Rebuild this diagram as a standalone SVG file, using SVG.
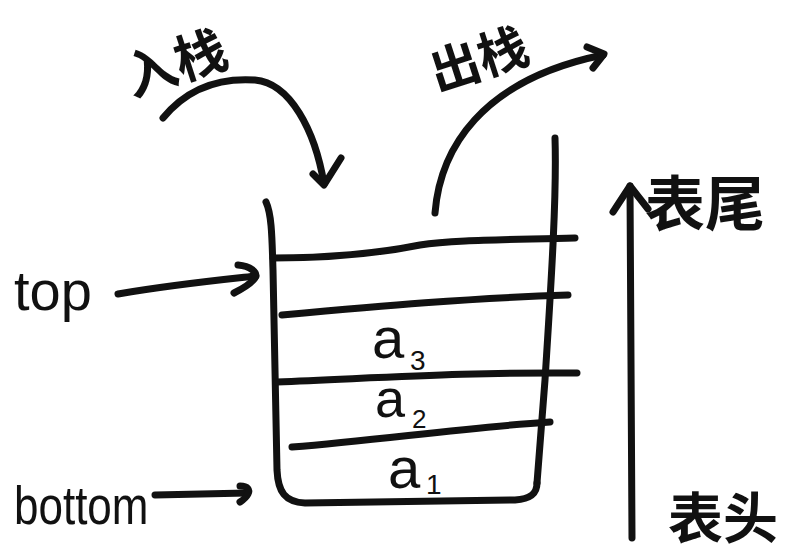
<svg xmlns="http://www.w3.org/2000/svg" width="796" height="559" viewBox="0 0 796 559">
<style>
.s{fill:none;stroke:#111;stroke-width:7;stroke-linecap:round;stroke-linejoin:round}
.cjk{font-family:"Noto Sans CJK SC","Noto Sans",sans-serif;font-weight:700;fill:#111}
.lat{font-family:"Liberation Sans","DejaVu Sans",sans-serif;fill:#111}
</style>
<rect width="796" height="559" fill="#fff"/>
<g id="stack">
<path class="s" d="M266,202 C272,215 272,240 273,270 L277,470 C278,492 285,502 305,503 L515,500 C530,499 537,494 537,483"/>
<path class="s" d="M555,138 C557,200 550,300 545,380 L537,483"/>
<path class="s" d="M273,258 C330,258 380,253 420,245 C450,240 500,240 575,238"/>
<path class="s" d="M282,315 C380,306 470,298 568,295"/>
<path class="s" d="M277,382 C380,378 470,372 577,373"/>
<path class="s" d="M292,447 C380,440 460,428 550,422"/>
</g>
<g id="a3"><text class="lat" x="372" y="358" font-size="58">a</text><text class="lat" x="410" y="370" font-size="28">3</text></g>
<g id="a2"><text class="lat" x="375" y="417" font-size="54">a</text><text class="lat" x="412" y="428" font-size="26">2</text></g>
<g id="a1"><text class="lat" x="388" y="488" font-size="58">a</text><text class="lat" x="426" y="494" font-size="28">1</text></g>
<g id="label-push"><text class="cjk" x="132" y="97" font-size="52" transform="rotate(-18 132 97)">入栈</text></g>
<g id="label-pop"><text class="cjk" x="437" y="92" font-size="50" transform="rotate(-18 437 92)">出栈</text></g>
<g id="label-tail"><text class="cjk" x="645" y="226" font-size="60">表尾</text></g>
<g id="label-head"><text class="cjk" x="668" y="538" font-size="55">表头</text></g>
<g id="label-top"><text class="lat" x="14" y="310" font-size="56">top</text></g>
<g id="label-bottom"><text class="lat" x="14" y="522" font-size="44" transform="translate(0,-102) scale(1,1.2)" transform-origin="0 0">bottom</text></g>
<g id="connectors">
<path class="s" d="M163,118 C190,85 225,78 255,80 C290,83 315,130 324,184"/>
<path class="s" d="M313,174 L324,185 L341,158"/>
<path class="s" d="M435,213 C440,150 480,80 603,55"/>
<path class="s" d="M587,47 L604,54 L593,68"/>
<path class="s" d="M632,538 L630,186"/>
<path class="s" d="M613,212 L630,186 L648,209"/>
<path class="s" d="M118,294 C170,285 210,281 256,276"/>
<path class="s" d="M238,265 C250,266 258,272 255,278 C250,285 240,290 234,293"/>
<path class="s" d="M155,495 L247,493"/>
<path class="s" d="M240,486 C248,486 250,490 248,494 C246,498 243,500 240,502"/>
</g>
</svg>
